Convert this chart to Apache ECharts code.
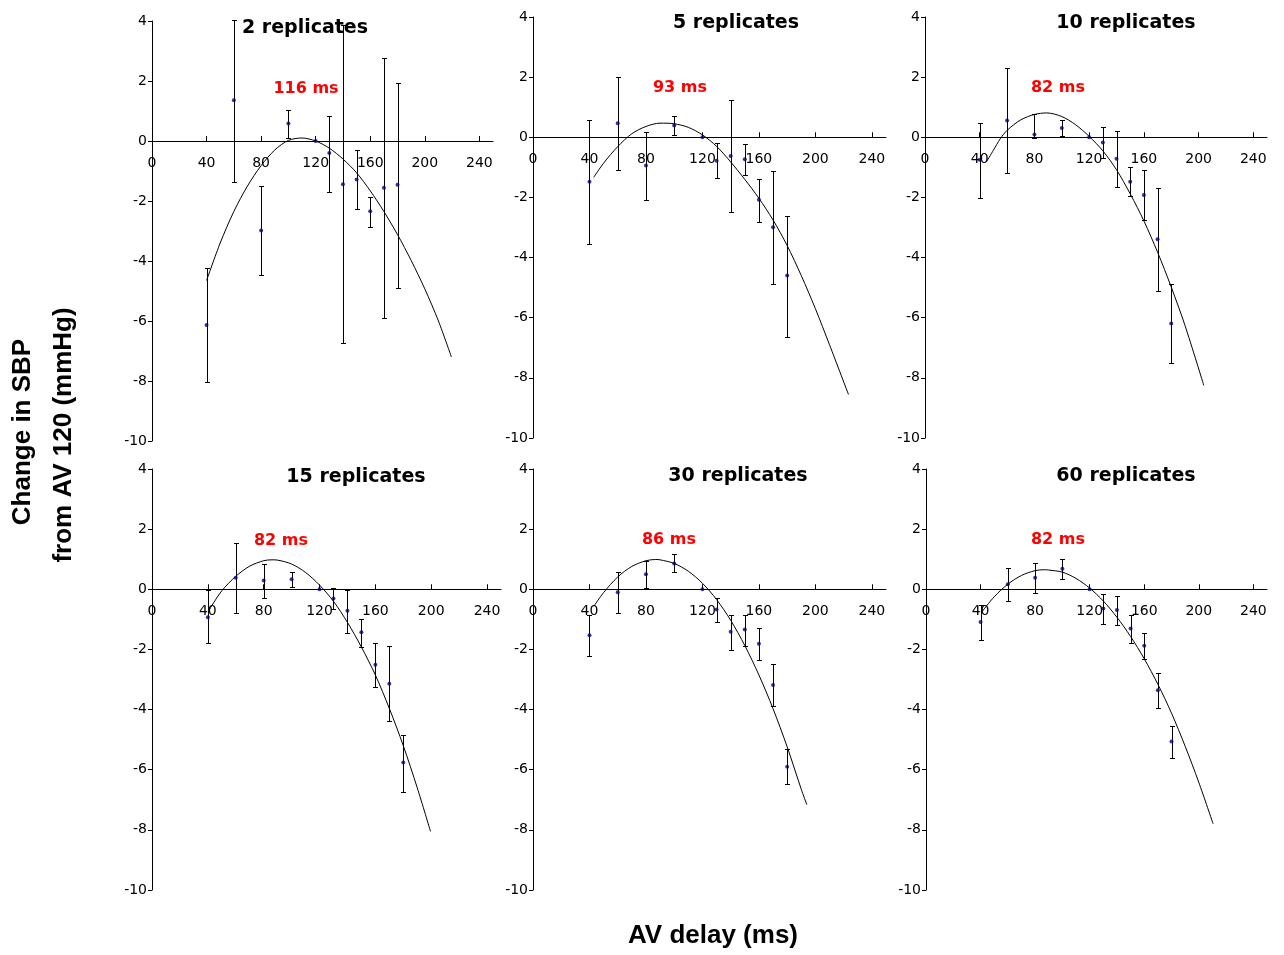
<!DOCTYPE html>
<html>
<head>
<meta charset="utf-8">
<script src="https://cdn.jsdelivr.net/npm/echarts@6/dist/echarts.min.js"></script>
<style>
  html, body { margin: 0; padding: 0; background: #ffffff; }
  #chart { width: 1284px; height: 955px; }
</style>
</head>
<body>
<div id="chart"></div>
<script>
// ---------------- DATA ----------------
const avDelay = [40, 60, 80, 100, 120, 130, 140, 150, 160, 170, 180];
const xTicks = [0, 40, 80, 120, 160, 200, 240];
const panelTitles = ['2 replicates', '5 replicates', '10 replicates', '15 replicates', '30 replicates', '60 replicates'];
const optimumLabels = ['116 ms', '93 ms', '82 ms', '82 ms', '86 ms', '82 ms'];
const xAxisTitle = 'AV delay (ms)';
const yAxisTitleLines = ['Change in SBP', 'from AV 120 (mmHg)'];

// 2 replicates
const mean2 = [-6.13, 1.36, -2.98, 0.58, 0, -0.4, -1.44, -1.28, -2.34, -1.56, -1.46];
const hi2 = [-4.22, 4.02, -1.5, 1.03, null, 0.84, 3.86, -0.3, -1.86, 2.76, 1.94];
const lo2 = [-8.03, -1.36, -4.48, 0.11, null, -1.7, -6.74, -2.26, -2.87, -5.9, -4.9];
const fitX2 = [40, 50, 60, 70, 80, 90, 100, 110, 120, 130, 140, 150, 160, 170, 180, 190, 200, 210, 219.5];
const fitY2 = [-4.65, -3.4, -2.35, -1.5, -0.82, -0.3, 0.02, 0.1, 0.0, -0.24, -0.6, -1.06, -1.66, -2.35, -3.12, -3.98, -4.93, -6.0, -7.2];

// 5 replicates
const mean5 = [-1.48, 0.47, -0.94, 0.39, 0, -0.78, -0.62, -0.73, -2.08, -2.99, -4.6];
const hi5 = [0.56, 2.0, 0.19, 0.72, null, -0.2, 1.24, -0.22, -1.38, -1.11, -2.61];
const lo5 = [-3.54, -1.09, -2.1, 0.06, null, -1.37, -2.5, -1.26, -2.81, -4.87, -6.64];
const fitX5 = [43, 50, 60, 70, 80, 90, 100, 110, 120, 130, 140, 150, 160, 170, 180, 190, 200, 210, 223.4];
const fitY5 = [-1.33, -0.86, -0.31, 0.12, 0.36, 0.47, 0.45, 0.33, 0.08, -0.3, -0.82, -1.4, -2.03, -2.75, -3.6, -4.6, -5.7, -6.9, -8.55];

// 10 replicates
const mean10 = [-0.75, 0.56, 0.09, 0.31, 0, -0.17, -0.71, -1.48, -1.92, -3.39, -6.19];
const hi10 = [0.47, 2.3, 0.78, 0.58, null, 0.35, 0.2, -1.0, -1.09, -1.7, -4.89];
const lo10 = [-2.02, -1.2, -0.02, 0.03, null, -0.68, -1.64, -1.96, -2.76, -5.1, -7.49];
const fitX10 = [45, 50, 55, 60, 70, 80, 89, 100, 110, 120, 130, 140, 150, 160, 170, 180, 190, 203.8];
const fitY10 = [-0.81, -0.43, -0.05, 0.23, 0.58, 0.76, 0.81, 0.69, 0.42, 0.03, -0.45, -1.08, -1.88, -2.78, -3.82, -4.98, -6.25, -8.25];

// 15 replicates
const mean15 = [-0.93, 0.38, 0.29, 0.33, 0, -0.31, -0.71, -1.43, -2.51, -3.14, -5.76];
const hi15 = [-0.02, 1.54, 0.84, 0.58, null, 0.04, -0.02, -0.98, -1.78, -1.89, -4.86];
const lo15 = [-1.8, -0.79, -0.29, 0.08, null, -0.66, -1.45, -1.92, -3.26, -4.37, -6.75];
const fitX15 = [41, 50, 60, 70, 80, 86, 90, 100, 110, 120, 130, 140, 150, 160, 170, 180, 190, 199.5];
const fitY15 = [-0.68, -0.05, 0.43, 0.77, 0.95, 0.98, 0.97, 0.84, 0.56, 0.14, -0.4, -1.1, -1.92, -2.85, -3.96, -5.2, -6.6, -8.05];

// 30 replicates
const mean30 = [-1.53, -0.1, 0.5, 0.86, 0, -0.67, -1.41, -1.34, -1.81, -3.18, -5.9];
const hi30 = [-0.85, 0.57, 0.93, 1.16, null, -0.29, -0.87, -0.84, -1.3, -2.47, -5.32];
const lo30 = [-2.22, -0.8, 0.04, 0.57, null, -1.1, -2.01, -1.89, -2.36, -3.89, -6.49];
const fitX30 = [43, 50, 60, 70, 80, 87, 90, 100, 110, 120, 130, 140, 150, 160, 170, 180, 190, 193.9];
const fitY30 = [-0.57, -0.11, 0.41, 0.76, 0.95, 0.99, 0.98, 0.86, 0.6, 0.2, -0.34, -1.03, -1.87, -2.85, -3.97, -5.24, -6.65, -7.16];

// 60 replicates
const mean60 = [-1.09, 0.17, 0.38, 0.68, 0, -0.64, -0.69, -1.3, -1.88, -3.36, -5.06];
const hi60 = [-0.53, 0.7, 0.87, 1.02, null, -0.17, -0.23, -0.87, -1.47, -2.8, -4.53];
const lo60 = [-1.7, -0.4, -0.12, 0.34, null, -1.16, -1.2, -1.79, -2.33, -3.96, -5.61];
const fitX60 = [41, 50, 60, 70, 80, 87, 90, 100, 110, 120, 130, 140, 150, 160, 170, 180, 190, 200, 210.5];
const fitY60 = [-0.75, -0.25, 0.17, 0.46, 0.62, 0.65, 0.64, 0.57, 0.36, 0.04, -0.39, -0.93, -1.57, -2.31, -3.16, -4.12, -5.22, -6.42, -7.8];

// ---------------- LAYOUT ----------------
const panelData = [
  { mean: mean2, hi: hi2, lo: lo2, fx: fitX2, fy: fitY2 },
  { mean: mean5, hi: hi5, lo: lo5, fx: fitX5, fy: fitY5 },
  { mean: mean10, hi: hi10, lo: lo10, fx: fitX10, fy: fitY10 },
  { mean: mean15, hi: hi15, lo: lo15, fx: fitX15, fy: fitY15 },
  { mean: mean30, hi: hi30, lo: lo30, fx: fitX30, fy: fitY30 },
  { mean: mean60, hi: hi60, lo: lo60, fx: fitX60, fy: fitY60 }
];
const grids = [
  { left: 152, top: 21, width: 341, height: 420 },
  { left: 533, top: 17, width: 353, height: 421 },
  { left: 925, top: 17, width: 342, height: 421 },
  { left: 152, top: 469, width: 349, height: 421 },
  { left: 533, top: 469, width: 353, height: 421 },
  { left: 926, top: 469, width: 341, height: 421 }
];
const Y_MIN = -10, Y_MAX = 4;
const titlePos = [[305, 28], [736, 23], [1126, 23], [356, 477], [738, 476], [1126, 476]];
const optPos = [[306, 89], [680, 88], [1058, 88], [281, 541], [669, 540], [1058, 540]];

const tickFont = 'DejaVu Sans, Verdana, sans-serif';

const option = {
  backgroundColor: '#ffffff',
  animation: false,
  grid: grids.map(g => Object.assign({ outerBoundsMode: 'none', containLabel: false }, g)),
  xAxis: grids.map((g, i) => ({
    gridIndex: i,
    type: 'value',
    position: 'bottom',
    // place the x axis on the y = 0 line of its panel
    offset: -g.height * (0 - Y_MIN) / (Y_MAX - Y_MIN),
    min: 0,
    max: 250,
    interval: 40,
    axisLine: { show: true, onZero: false, lineStyle: { color: '#000', width: 1 } },
    axisTick: { show: true, inside: true, length: 5, customValues: xTicks, lineStyle: { color: '#000', width: 1 } },
    axisLabel: {
      show: true, customValues: xTicks, color: '#000', fontFamily: tickFont, fontSize: 14, margin: 15,
      formatter: v => (xTicks.indexOf(v) >= 0 ? String(v) : '')
    },
    splitLine: { show: false }
  })),
  yAxis: grids.map((g, i) => ({
    gridIndex: i,
    type: 'value',
    min: Y_MIN,
    max: Y_MAX,
    interval: 2,
    axisLine: { show: true, onZero: false, lineStyle: { color: '#000', width: 1 } },
    axisTick: { show: true, inside: false, length: 4, lineStyle: { color: '#000', width: 1 } },
    axisLabel: { show: true, color: '#000', fontFamily: tickFont, fontSize: 14, margin: 5 },
    splitLine: { show: false }
  })),
  series: [],
  graphic: []
};

panelData.forEach((p, i) => {
  // fitted curve
  option.series.push({
    type: 'line',
    xAxisIndex: i, yAxisIndex: i,
    data: p.fx.map((x, k) => [x, p.fy[k]]),
    smooth: 0.3,
    showSymbol: false,
    symbol: 'none',
    lineStyle: { color: '#000', width: 1 },
    z: 2,
    silent: true
  });
  // error bars
  const errData = [];
  avDelay.forEach((x, k) => {
    if (p.lo[k] !== null && p.hi[k] !== null) errData.push([x, p.lo[k], p.hi[k]]);
  });
  option.series.push({
    type: 'custom',
    xAxisIndex: i, yAxisIndex: i,
    data: errData,
    encode: { x: 0, y: [1, 2] },
    z: 3,
    silent: true,
    renderItem: function (params, api) {
      const x = api.value(0);
      const top = api.coord([x, api.value(2)]);
      const bot = api.coord([x, api.value(1)]);
      const cx = Math.round(top[0]) + 0.5;
      const ty = Math.round(top[1]) + 0.5;
      const by = Math.round(bot[1]) + 0.5;
      const w = 2.5;
      const st = { stroke: '#000', lineWidth: 1 };
      return {
        type: 'group',
        children: [
          { type: 'line', shape: { x1: cx, y1: ty, x2: cx, y2: by }, style: st },
          { type: 'line', shape: { x1: cx - w, y1: ty, x2: cx + w, y2: ty }, style: st },
          { type: 'line', shape: { x1: cx - w, y1: by, x2: cx + w, y2: by }, style: st }
        ]
      };
    }
  });
  // mean points
  option.series.push({
    type: 'scatter',
    xAxisIndex: i, yAxisIndex: i,
    data: avDelay.map((x, k) => [x, p.mean[k]]),
    symbol: 'circle',
    symbolSize: 4,
    itemStyle: { color: '#00007f' },
    z: 4,
    silent: true
  });
  // panel title
  option.graphic.push({
    type: 'text', x: titlePos[i][0], y: titlePos[i][1], z: 10,
    style: { text: panelTitles[i], fill: '#000', font: 'bold 19px "DejaVu Sans", Verdana, sans-serif', align: 'center', verticalAlign: 'middle' }
  });
  // optimum label
  option.graphic.push({
    type: 'text', x: optPos[i][0], y: optPos[i][1], z: 10,
    style: { text: optimumLabels[i], fill: '#ff0000', font: 'bold 16px "DejaVu Sans", Verdana, sans-serif', align: 'center', verticalAlign: 'middle' }
  });
});

// axis titles
option.graphic.push({
  type: 'text', x: 713, y: 936, z: 10,
  style: { text: xAxisTitle, fill: '#000', font: 'bold 26px "Liberation Sans", Arial, sans-serif', align: 'center', verticalAlign: 'middle' }
});
option.graphic.push({
  type: 'text', x: 23, y: 432, rotation: Math.PI / 2, z: 10,
  style: { text: yAxisTitleLines[0], fill: '#000', font: 'bold 26px "Liberation Sans", Arial, sans-serif', align: 'center', verticalAlign: 'middle' }
});
option.graphic.push({
  type: 'text', x: 64, y: 435, rotation: Math.PI / 2, z: 10,
  style: { text: yAxisTitleLines[1], fill: '#000', font: 'bold 26px "Liberation Sans", Arial, sans-serif', align: 'center', verticalAlign: 'middle' }
});

const chart = echarts.init(document.getElementById('chart'), null, { renderer: 'canvas', width: 1284, height: 955 });
chart.setOption(option);
</script>
</body>
</html>
